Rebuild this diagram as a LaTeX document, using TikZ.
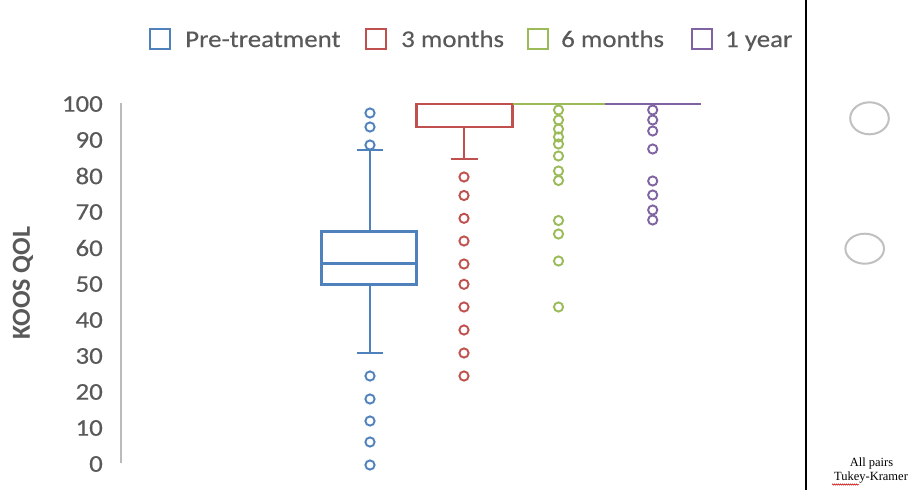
\documentclass[tikz,border=0pt]{standalone}
\usepackage{fontspec}
\setmainfont{Carlito}[FakeStretch=1.12,FakeBold=0.3]
\newfontfamily\axfont{Carlito}
\newfontfamily\tmsfont{Liberation Serif}
\usetikzlibrary{decorations.pathmorphing}
\definecolor{cblue}{HTML}{4F81BD}
\definecolor{cred}{HTML}{C0504D}
\definecolor{cgreen}{HTML}{9BBB59}
\definecolor{cpurple}{HTML}{8064A2}
\definecolor{txtgray}{HTML}{595959}
\definecolor{axgray}{HTML}{BBBBBB}
\definecolor{ellgray}{HTML}{C0C0C0}
\tikzset{
  boxline/.style={line width=2.4pt},
  outl/.style={line width=1.9pt},
  legsq/.style={line width=2pt},
  legtxt/.style={anchor=base west, inner sep=0pt, text=txtgray, font=\fontsize{24}{28}\selectfont},
  ticklbl/.style={anchor=east, inner sep=0pt, text=txtgray, font=\fontsize{24}{28}\selectfont},
}
\begin{document}
\begin{tikzpicture}[x=1pt,y=-1pt]
\useasboundingbox (0,0) rectangle (922,490);
\fill[white] (0,0) rectangle (922,490);

% legend
\draw[cblue,legsq] (150,29) rectangle (170,49);
\node[legtxt] (lpre) at (185,47) {Pre-treatment};
\draw[cred,legsq] (366,29) rectangle (386,49);
\node[legtxt] (l3m) at (401,47) {3 months};
\draw[cgreen,legsq] (528,29) rectangle (548,49);
\node[legtxt] (l6m) at (561,47) {6 months};
\draw[cpurple,legsq] (692,29) rectangle (712,49);
\node[legtxt] (l1y) at (725,47) {1 year};

% axis
\draw[axgray,line width=2pt] (121,103) -- (121,463);
\foreach \v in {0,10,...,100}
  \node[ticklbl] (t\v) at (103,{464-3.6*\v}) {\v};
\node[rotate=90, inner sep=0pt, text=txtgray, font=\axfont\bfseries\fontsize{26}{30}\selectfont] (ylab) at (23,283) {KOOS QOL};

% Pre-treatment (blue)
\draw[cblue,boxline] (370,231.5) -- (370,150);
\draw[cblue,boxline] (357,150) -- (383,150);
\draw[cblue,boxline] (370,284.5) -- (370,353);
\draw[cblue,boxline] (357,353) -- (383,353);
\draw[cblue,boxline] (321.5,231.5) rectangle (416.5,284.5);
\draw[cblue,boxline] (321.5,263.5) -- (416.5,263.5);
\foreach \y in {113,127,145,376,399,421,442,465}
  \draw[cblue,outl] (370,\y) circle[radius=4.6];

% 3 months (red)
\draw[cred,boxline] (464,127) -- (464,159);
\draw[cred,boxline] (451,159) -- (478,159);
\draw[cred,boxline] (416.5,104) rectangle (512.5,127);
\foreach \y in {177,195.5,218.3,241,264,284.3,307,330,353,376}
  \draw[cred,outl] (464,\y) circle[radius=4.6];

% 6 months (green)
\draw[cgreen,boxline] (512.5,104) -- (605,104);
\foreach \y in {110,120,129,137,144,156,171,180.5,220.5,234,261,307}
  \draw[cgreen,outl] (558.5,\y) circle[radius=4.6];

% 1 year (purple)
\draw[cpurple,boxline] (605,104) -- (701,104);
\foreach \y in {110,120,131,149,181,195,210,220}
  \draw[cpurple,outl] (652.7,\y) circle[radius=4.6];

% right panel
\draw[black,line width=2.5pt] (806,0) -- (806,490);
\draw[ellgray,line width=2pt] (869.5,118.3) ellipse[x radius=19.3, y radius=16];
\draw[ellgray,line width=2pt] (864.7,248.7) ellipse[x radius=19.3, y radius=15];
\node[anchor=base, inner sep=0pt, font=\tmsfont\fontsize{12.5}{14}\selectfont] (allp) at (871.5,466) {All pairs};
\node[anchor=base, inner sep=0pt, font=\tmsfont\fontsize{12.5}{14}\selectfont] (tk) at (871,480.5) {Tukey-Kramer};
\draw[red!80!black,line width=0.5pt,decorate,decoration={snake,amplitude=0.7pt,segment length=2pt}] (832,484.5) -- (859,484.5);
\end{tikzpicture}
\end{document}
